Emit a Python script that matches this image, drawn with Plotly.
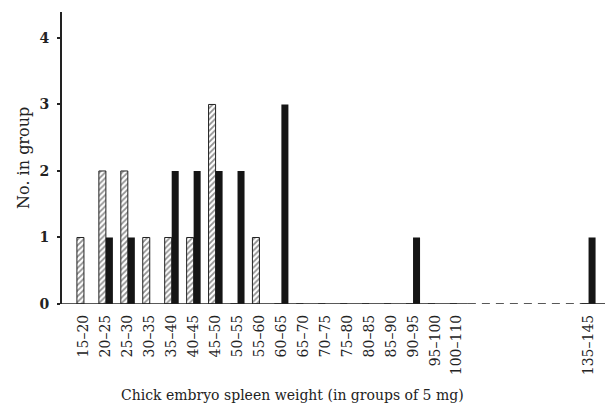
import plotly.graph_objects as go

# Weight groups (mg) that carry a label, in order along the axis
categories = ["15–20", "20–25", "25–30", "30–35", "35–40", "40–45", "45–50",
              "50–55", "55–60", "60–65", "65–70", "70–75", "75–80", "80–85",
              "85–90", "90–95", "95–100", "100–110", "135–145"]
# Unlabelled (empty) groups in the broken part of the axis
gap_groups = ["110–115", "115–120", "120–125", "125–130", "130–135"]

# Counts per group
hatched_counts = [1, 2, 2, 1, 1, 1, 3, 0, 1, 0, 0, 0, 0, 0, 0, 0, 0, 0, 0]
solid_counts   = [0, 1, 1, 0, 2, 2, 2, 2, 0, 3, 0, 0, 0, 0, 0, 1, 0, 0, 1]

y_ticks = [0, 1, 2, 3, 4]

# Slot order along the axis (gap groups sit between 100–110 and 135–145)
slots = categories[:-1] + gap_groups + categories[-1:]
xpos = [slots.index(c) for c in categories]

fig = go.Figure()
fig.add_trace(go.Bar(
    x=xpos, y=hatched_counts, name="hatched",
    marker=dict(color="white",
                pattern=dict(shape="/", fgcolor="#222", bgcolor="white",
                             size=4, solidity=0.45),
                line=dict(color="#222", width=1)),
))
fig.add_trace(go.Bar(
    x=xpos, y=solid_counts, name="solid",
    marker=dict(color="#151515", line=dict(width=0)),
))

idx_last_before_gap = slots.index("100–110")
idx_after_gap = slots.index("135–145")
x_start = -1
x_end = len(slots) - 0.25

# baseline: solid, then dashed across the break, then solid
fig.add_shape(type="line", xref="x", yref="y", x0=x_start, x1=idx_last_before_gap + 0.5,
              y0=0, y1=0, line=dict(color="#222", width=1.6))
fig.add_shape(type="line", xref="x", yref="y", x0=idx_last_before_gap + 0.5, x1=idx_after_gap - 0.4,
              y0=0, y1=0, line=dict(color="#222", width=1.3, dash="8px,6px"))
fig.add_shape(type="line", xref="x", yref="y", x0=idx_after_gap - 0.4, x1=x_end,
              y0=0, y1=0, line=dict(color="#222", width=1.6))

serif = "DejaVu Serif, Liberation Serif, serif"

fig.update_layout(
    width=607, height=405,
    margin=dict(l=62, r=2, t=12, b=101),
    paper_bgcolor="white", plot_bgcolor="white",
    barmode="group", bargap=0.36, bargroupgap=0.0,
    showlegend=False,
    font=dict(family=serif, color="#222"),
)
fig.update_xaxes(
    range=[x_start, x_end], automargin=False,
    tickmode="array", tickvals=xpos, ticktext=categories,
    tickangle=-90, tickfont=dict(family=serif, size=14, color="#222"),
    ticklabelstandoff=7,
    showgrid=False, zeroline=False, showline=False, ticks="",
)
fig.update_yaxes(
    range=[0, 4.39], automargin=False,
    tickmode="array", tickvals=y_ticks,
    tickfont=dict(family=serif, size=14, color="#222", weight="bold"),
    ticklabelstandoff=5,
    showgrid=False, zeroline=False,
    showline=True, linecolor="#222", linewidth=2,
    ticks="outside", ticklen=3, tickwidth=1.5, tickcolor="#222",
)
fig.add_annotation(
    text="No. in group", textangle=-90,
    xref="paper", yref="paper", x=-0.072, y=0.5, xanchor="center", yanchor="middle",
    showarrow=False, font=dict(family=serif, size=16, color="#222"),
)
fig.add_annotation(
    text="Chick embryo spleen weight (in groups of 5 mg)",
    xref="paper", yref="paper", x=0.424, y=-0.31, yanchor="middle",
    showarrow=False, font=dict(family=serif, size=14, color="#222"),
)

fig.write_html("out.html", config={"displayModeBar": False},
               post_script="document.body.style.margin='0';document.body.style.overflow='hidden';")
